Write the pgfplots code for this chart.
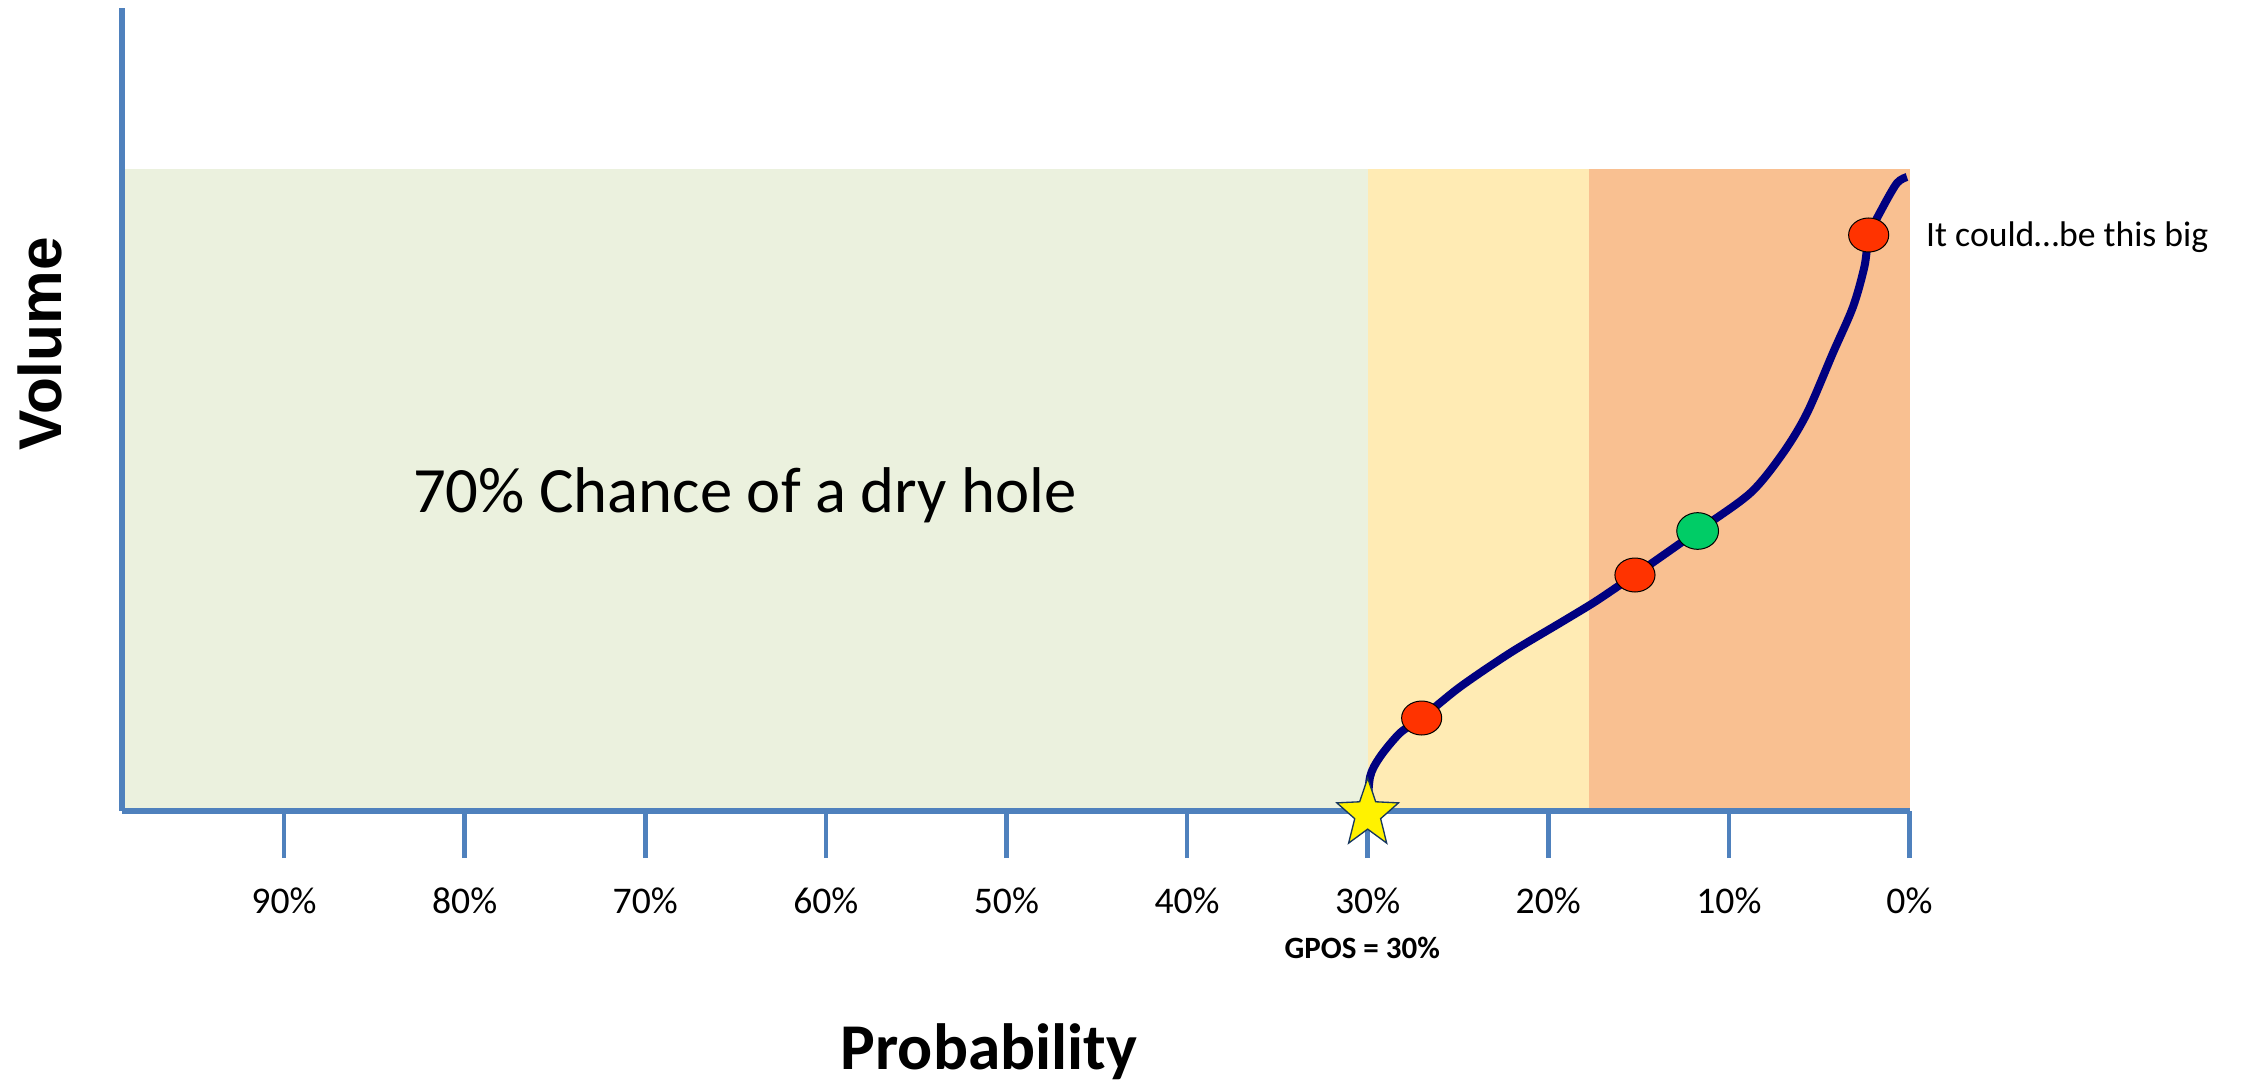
\documentclass[border=0pt]{standalone}
\usepackage{pgfplots}
\pgfplotsset{compat=1.18}
\usepackage{fontspec}
\setmainfont{Carlito}
\newfontfamily\arialfont{Liberation Sans}
\definecolor{axblue}{HTML}{4F81BD}
\definecolor{reggreen}{HTML}{EBF1DE}
\definecolor{regyellow}{HTML}{FFEBB4}
\definecolor{regorange}{HTML}{F9C091}
\definecolor{curvecol}{HTML}{000080}
\definecolor{dotred}{HTML}{FF3300}
\definecolor{dotgreen}{HTML}{00CC66}
\definecolor{starline}{HTML}{17375E}
\pgfdeclareplotmark{fstar}{%
  \pgfpathmoveto{\pgfpointpolar{90}{\pgfplotmarksize}}%
  \pgfpathlineto{\pgfpointpolar{126}{0.42\pgfplotmarksize}}%
  \pgfpathlineto{\pgfpointpolar{162}{\pgfplotmarksize}}%
  \pgfpathlineto{\pgfpointpolar{198}{0.42\pgfplotmarksize}}%
  \pgfpathlineto{\pgfpointpolar{234}{\pgfplotmarksize}}%
  \pgfpathlineto{\pgfpointpolar{270}{0.42\pgfplotmarksize}}%
  \pgfpathlineto{\pgfpointpolar{306}{\pgfplotmarksize}}%
  \pgfpathlineto{\pgfpointpolar{342}{0.42\pgfplotmarksize}}%
  \pgfpathlineto{\pgfpointpolar{18}{\pgfplotmarksize}}%
  \pgfpathlineto{\pgfpointpolar{54}{0.42\pgfplotmarksize}}%
  \pgfpathclose
  \pgfusepathqfillstroke}
\begin{document}
\begin{tikzpicture}
\begin{axis}[
  at={(0,0)}, anchor=south west, scale only axis,
  width=536.25pt, height=240.9pt,
  xmin=0, xmax=98.97, ymin=0, ymax=803,
  x dir=reverse,
  axis x line=bottom, axis y line=left,
  axis line style={-, axblue, line width=1.6pt},
  xtick={0,10,20,30,40,50,60,70,80,90},
  xticklabels={0\%,10\%,20\%,30\%,40\%,50\%,60\%,70\%,80\%,90\%},
  ytick=\empty,
  tick align=outside, major tick length=14.1pt,
  x tick style={axblue, line width=1.4pt},
  xticklabel style={font=\fontsize{11.3}{13}\selectfont, anchor=base, yshift=-16.5pt},
  xlabel={Probability},
  xlabel style={at={(axis cs:50.97,-258)}, anchor=base, font=\bfseries\fontsize{19.6}{22}\selectfont},
  ylabel={Volume},
  ylabel style={at={(axis cs:103.51,467)}, anchor=center, rotate=0, font=\arialfont\bfseries\fontsize{18.1}{20}\selectfont},
  clip=false,
  set layers,
]
% probability regions
\addplot[on layer=axis background, fill=reggreen, draw=none] coordinates {(98.97,642) (30,642)} \closedcycle;
\addplot[on layer=axis background, fill=regyellow, draw=none] coordinates {(30,642) (17.75,642)} \closedcycle;
\addplot[on layer=axis background, fill=regorange, draw=none] coordinates {(17.75,642) (0,642)} \closedcycle;
% volume curve
\addplot[curvecol, line width=2.4pt, smooth, tension=0.5, mark=none] coordinates {
(30,0) (29.87,34) (29.32,54) (28.21,78) (27.01,93) (24.89,124) (22.12,158) (19.35,188)
(17.52,208) (16.03,226) (15.20,236) (11.73,280) (8.81,318) (7.00,358) (5.67,398)
(4.24,458) (3.13,504) (2.50,544) (2.22,576) (1.47,604) (0.69,628) (0.14,634)};
% GPOS star
\addplot[only marks, mark=fstar, mark size=10.8pt, mark options={fill=yellow, draw=starline, line width=0.4pt, xscale=0.9}] coordinates {(30,-3)};
% red points
\addplot[only marks, mark=*, mark size=5.1pt, mark options={fill=dotred, draw=black, line width=0.3pt, xscale=1.18}] coordinates {(27.01,93) (15.20,236) (2.26,576)};
% green point
\addplot[only marks, mark=*, mark size=5.5pt, mark options={fill=dotgreen, draw=black, line width=0.3pt, xscale=1.14}] coordinates {(11.73,280)};
\node[anchor=base, font=\fontsize{19.4}{22}\selectfont] at (axis cs:64.48,298.7) {70\% Chance of a dry hole};
\node[anchor=base west, inner sep=0pt, font=\fontsize{10.7}{12}\selectfont] at (axis cs:-0.89,564) {It could…be this big};
\node[anchor=base, font=\bfseries\fontsize{9.3}{11}\selectfont] at (axis cs:30.3,-147) {GPOS = 30\%};
\end{axis}
\pgfresetboundingbox
\path[use as bounding box] (-36.6pt,-81pt) rectangle (637.5pt,243.3pt);
\end{tikzpicture}
\end{document}
